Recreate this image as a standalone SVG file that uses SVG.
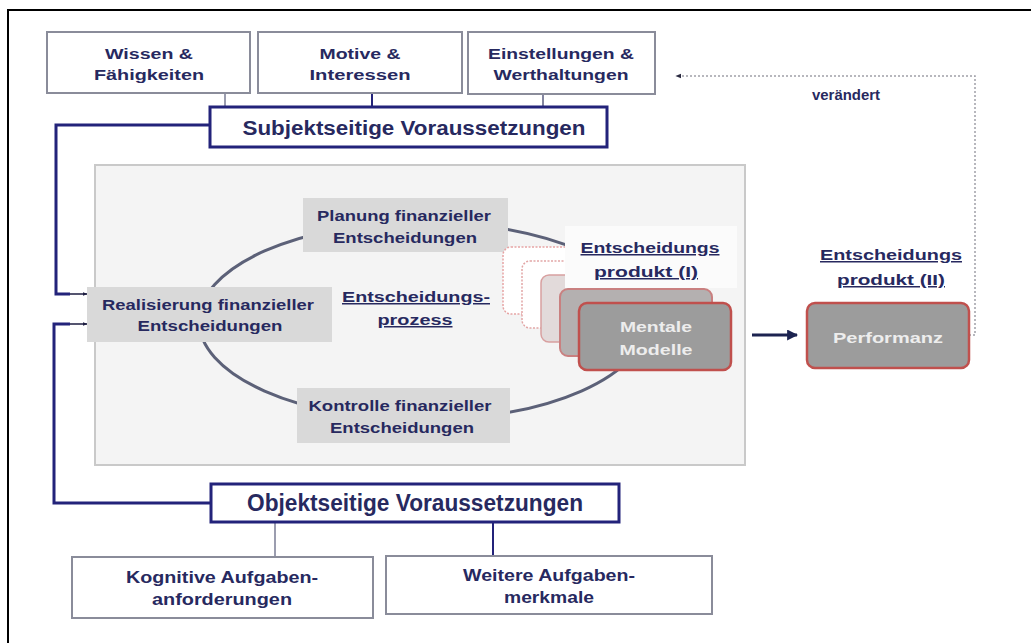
<svg xmlns="http://www.w3.org/2000/svg" width="1031" height="643" viewBox="0 0 1031 643">
<defs>
<style>
text{font-family:"Liberation Sans",Arial,sans-serif;font-weight:bold;fill:#27295f;text-anchor:middle}
.wbox{fill:#ffffff;stroke:#8a8c9a;stroke-width:2}
.nbox{fill:#ffffff;stroke:#23237a;stroke-width:3}
.gbox{fill:#d9d9d9;stroke:none}
.t13{font-size:14.5px}
.t14{font-size:15px}
.ul{text-decoration:underline}
.wt{fill:#ededed}
.nav{fill:none;stroke:#23237a;stroke-width:3}
.thin{fill:none;stroke:#1c1c40;stroke-width:1.5}
</style>
<marker id="ah" viewBox="0 0 10 10" refX="9" refY="5" markerWidth="5" markerHeight="5" orient="auto" markerUnits="userSpaceOnUse">
<path d="M0,1 L10,5 L0,9 z" fill="#1c1c40"/>
</marker>
<marker id="ahb" viewBox="0 0 10 10" refX="9" refY="5" markerWidth="11" markerHeight="11" orient="auto" markerUnits="userSpaceOnUse">
<path d="M0,0 L10,5 L0,10 z" fill="#1c2350"/>
</marker>
<marker id="ahd" viewBox="0 0 10 10" refX="9" refY="5" markerWidth="6" markerHeight="6" orient="auto" markerUnits="userSpaceOnUse">
<path d="M0,1 L10,5 L0,9 z" fill="#2a2a40"/>
</marker>
</defs>
<rect width="1031" height="643" fill="#ffffff"/>
<path d="M8,643 V10 H1031" fill="none" stroke="#000" stroke-width="2"/>

<g id="panel">
<rect x="95" y="165" width="650" height="300" fill="#f4f4f4" stroke="#c9c9c9" stroke-width="2"/>
</g>

<g id="connectors">
<line x1="225" y1="93" x2="225" y2="107" stroke="#7a7c95" stroke-width="1.5"/>
<line x1="372" y1="93" x2="372" y2="107" stroke="#23237a" stroke-width="2"/>
<line x1="543" y1="94" x2="543" y2="107" stroke="#5a5c80" stroke-width="1.5"/>
<line x1="275" y1="522" x2="275" y2="557" stroke="#7a7c95" stroke-width="1.5"/>
<line x1="493" y1="522" x2="493" y2="556" stroke="#23237a" stroke-width="2"/>
<path class="nav" d="M210,125 H56 V294 H70"/>
<path class="thin" d="M70,294 H87" marker-end="url(#ah)"/>
<path class="nav" d="M211,503 H54 V324 H70"/>
<path class="thin" d="M70,324 H87" marker-end="url(#ah)"/>
<ellipse cx="423" cy="321" rx="224" ry="99" fill="none" stroke="#5c6178" stroke-width="3"/>
<path d="M752,335 H797" fill="none" stroke="#1c2350" stroke-width="3" marker-end="url(#ahb)"/>
<path d="M969,335 H975 V76 H676" fill="none" stroke="#a0a0a8" stroke-width="1.5" stroke-dasharray="2,2" marker-end="url(#ahd)"/>
<text class="t13" x="846" y="100" textLength="68" lengthAdjust="spacingAndGlyphs">verändert</text>
</g>

<g id="wissen">
<rect class="wbox" x="47" y="32" width="203" height="61"/>
<text class="t13" x="149" y="59" textLength="88" lengthAdjust="spacingAndGlyphs">Wissen &amp;</text>
<text class="t13" x="149" y="80" textLength="110" lengthAdjust="spacingAndGlyphs">Fähigkeiten</text>
</g>
<g id="motive">
<rect class="wbox" x="258" y="32" width="204" height="61"/>
<text class="t13" x="360" y="59" textLength="81" lengthAdjust="spacingAndGlyphs">Motive &amp;</text>
<text class="t13" x="360" y="80" textLength="101" lengthAdjust="spacingAndGlyphs">Interessen</text>
</g>
<g id="einstellungen">
<rect class="wbox" x="468" y="32" width="187" height="62"/>
<text class="t13" x="561" y="59" textLength="146" lengthAdjust="spacingAndGlyphs">Einstellungen &amp;</text>
<text class="t13" x="561" y="80" textLength="135" lengthAdjust="spacingAndGlyphs">Werthaltungen</text>
</g>
<g id="subjekt">
<rect class="nbox" x="210" y="107" width="397" height="40"/>
<text x="414" y="135" font-size="20" textLength="343" lengthAdjust="spacingAndGlyphs">Subjektseitige Voraussetzungen</text>
</g>

<g id="planung">
<rect class="gbox" x="303" y="198" width="205" height="54"/>
<text class="t13" x="404" y="221" textLength="174" lengthAdjust="spacingAndGlyphs">Planung finanzieller</text>
<text class="t13" x="405" y="243" textLength="144" lengthAdjust="spacingAndGlyphs">Entscheidungen</text>
</g>
<g id="realisierung">
<rect class="gbox" x="87" y="287" width="245" height="55"/>
<text class="t13" x="208" y="310" textLength="212" lengthAdjust="spacingAndGlyphs">Realisierung finanzieller</text>
<text class="t13" x="210" y="331" textLength="145" lengthAdjust="spacingAndGlyphs">Entscheidungen</text>
</g>
<g id="kontrolle">
<rect class="gbox" x="297" y="388" width="213" height="55"/>
<text class="t13" x="400" y="411" textLength="183" lengthAdjust="spacingAndGlyphs">Kontrolle finanzieller</text>
<text class="t13" x="402" y="433" textLength="144" lengthAdjust="spacingAndGlyphs">Entscheidungen</text>
</g>
<g id="prozess">
<text class="t14 ul" x="416" y="302" textLength="148" lengthAdjust="spacingAndGlyphs">Entscheidungs-</text>
<text class="t14 ul" x="415" y="325" textLength="75" lengthAdjust="spacingAndGlyphs">prozess</text>
</g>

<g id="mentale-modelle">
<rect x="503" y="247" width="152" height="67" rx="8" fill="#ffffff" stroke="#e6a4a4" stroke-width="1.5" stroke-dasharray="2,1.5"/>
<rect x="522" y="261" width="152" height="67" rx="8" fill="#ffffff" stroke="#e2a6a6" stroke-width="1.5" stroke-dasharray="2,1.5"/>
<rect x="541" y="275" width="152" height="67" rx="8" fill="#e2dada" stroke="#d8a0a0" stroke-width="1.5"/>
<rect x="565" y="226" width="172" height="62" fill="#fbfbfb"/>
<rect x="560" y="289" width="152" height="67" rx="8" fill="#b4b0b0" stroke="#c98080" stroke-width="2"/>
<rect x="579" y="303" width="152" height="67" rx="8" fill="#9c9c9c" stroke="#c0504d" stroke-width="2.5"/>
<text class="t14 wt" x="656" y="332" textLength="72" lengthAdjust="spacingAndGlyphs">Mentale</text>
<text class="t14 wt" x="656" y="355" textLength="73" lengthAdjust="spacingAndGlyphs">Modelle</text>
<text class="t14 ul" x="650" y="253" textLength="139" lengthAdjust="spacingAndGlyphs">Entscheidungs</text>
<text class="t14 ul" x="646" y="277" textLength="104" lengthAdjust="spacingAndGlyphs">produkt (I)</text>
</g>

<g id="performanz">
<text class="t14 ul" x="891" y="260" textLength="142" lengthAdjust="spacingAndGlyphs">Entscheidungs</text>
<text class="t14 ul" x="891" y="285" textLength="108" lengthAdjust="spacingAndGlyphs">produkt (II)</text>
<rect x="807" y="303" width="162" height="65" rx="8" fill="#9c9c9c" stroke="#c0504d" stroke-width="2.5"/>
<text class="t14 wt" x="888" y="343" textLength="110" lengthAdjust="spacingAndGlyphs">Performanz</text>
</g>

<g id="objekt">
<rect class="nbox" x="211" y="484" width="408" height="38"/>
<text x="415" y="511" font-size="23" font-weight="normal" textLength="336" lengthAdjust="spacingAndGlyphs">Objektseitige Voraussetzungen</text>
</g>
<g id="kognitive">
<rect class="wbox" x="72" y="557" width="301" height="61"/>
<text x="222" y="583" font-size="16" textLength="192" lengthAdjust="spacingAndGlyphs">Kognitive Aufgaben-</text>
<text x="222" y="605" font-size="16" textLength="140" lengthAdjust="spacingAndGlyphs">anforderungen</text>
</g>
<g id="weitere">
<rect class="wbox" x="386" y="556" width="326" height="58"/>
<text x="549" y="581" font-size="16" textLength="172" lengthAdjust="spacingAndGlyphs">Weitere Aufgaben-</text>
<text x="549" y="603" font-size="16" textLength="90" lengthAdjust="spacingAndGlyphs">merkmale</text>
</g>
</svg>
